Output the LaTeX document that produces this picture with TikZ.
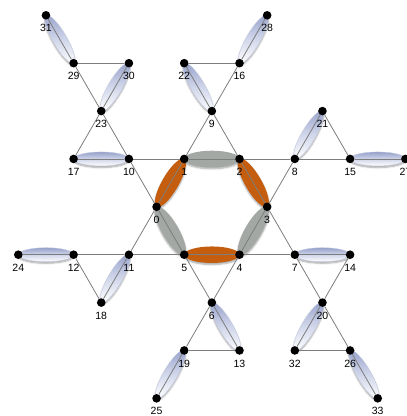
\documentclass[tikz,border=0pt]{standalone}
\usepackage{fontspec}
\setmainfont{Liberation Sans}
\usetikzlibrary{calc,shapes.geometric,shadows.blur}
\definecolor{edgegray}{RGB}{125,125,125}
\definecolor{mblue}{RGB}{150,161,202}
\definecolor{mbluemid}{RGB}{208,214,234}
\definecolor{mblueedge}{RGB}{196,203,226}
\definecolor{morange}{RGB}{196,94,14}
\definecolor{mgray}{RGB}{164,168,164}
\pgfdeclarelayer{ellayer}
\pgfdeclarelayer{edgelayer}
\pgfsetlayers{ellayer,edgelayer,main}
\tikzset{
  vtx/.style={circle, fill=black, inner sep=0pt, minimum size=8.6pt, label={[lbl]below:#1}},
  lbl/.style={font=\fontsize{10.5}{12}\selectfont, inner sep=0pt},
  edge/.style={draw=edgegray, line width=0.8pt},
  ell/.style={ellipse, inner sep=0pt, outer sep=0pt,
    blur shadow={shadow xshift=0pt, shadow yshift=-1.6pt, shadow blur steps=6, shadow opacity=35, shadow blur radius=1.6pt}},
  mblu/.style={ell, minimum height=14pt, top color=mblue, bottom color=white, middle color=mbluemid, draw=mblueedge, line width=0.4pt},
  morg/.style={ell, minimum height=16.5pt, fill=morange},
  mgry/.style={ell, minimum height=16.5pt, fill=mgray},
}
\newcommand\matchell[3]{%
  \path let \p1=($(n#2)-(n#1)$), \n1={mod(atan2(\y1,\x1)+360,180)}, \n2={veclen(\x1,\y1)} in
    node[#3, name=m#1-#2, minimum width=\n2, rotate=\n1] at ($(n#1)!0.5!(n#2)$) {};}
\begin{document}
\begin{tikzpicture}[x=27.65pt, y=-47.88pt, label distance=4.6pt]
\useasboundingbox (-18.3pt,15.3pt) rectangle (388.7pt,-400.7pt);
% vertices
\node[vtx=0]  (n0)  at (5,4) {};
\node[vtx=1]  (n1)  at (6,3) {};
\node[vtx=2]  (n2)  at (8,3) {};
\node[vtx=3]  (n3)  at (9,4) {};
\node[vtx=4]  (n4)  at (8,5) {};
\node[vtx=5]  (n5)  at (6,5) {};
\node[vtx=6]  (n6)  at (7,6) {};
\node[vtx=7]  (n7)  at (10,5) {};
\node[vtx=8]  (n8)  at (10,3) {};
\node[vtx=9]  (n9)  at (7,2) {};
\node[vtx=10] (n10) at (4,3) {};
\node[vtx=11] (n11) at (4,5) {};
\node[vtx=12] (n12) at (2,5) {};
\node[vtx=13] (n13) at (8,7) {};
\node[vtx=14] (n14) at (12,5) {};
\node[vtx=15] (n15) at (12,3) {};
\node[vtx=16] (n16) at (8,1) {};
\node[vtx=17] (n17) at (2,3) {};
\node[vtx=18] (n18) at (3,6) {};
\node[vtx=19] (n19) at (6,7) {};
\node[vtx=20] (n20) at (11,6) {};
\node[vtx=21] (n21) at (11,2) {};
\node[vtx=22] (n22) at (6,1) {};
\node[vtx=23] (n23) at (3,2) {};
\node[vtx=24] (n24) at (0,5) {};
\node[vtx=25] (n25) at (5,8) {};
\node[vtx=26] (n26) at (12,7) {};
\node[vtx=27] (n27) at (14,3) {};
\node[vtx=28] (n28) at (9,0) {};
\node[vtx=29] (n29) at (2,1) {};
\node[vtx=30] (n30) at (4,1) {};
\node[vtx=31] (n31) at (1,0) {};
\node[vtx=32] (n32) at (10,7) {};
\node[vtx=33] (n33) at (13,8) {};
% matching ellipses
\begin{pgfonlayer}{ellayer}
\matchell{31}{29}{mblu}
\matchell{23}{30}{mblu}
\matchell{17}{10}{mblu}
\matchell{22}{9}{mblu}
\matchell{16}{28}{mblu}
\matchell{8}{21}{mblu}
\matchell{15}{27}{mblu}
\matchell{24}{12}{mblu}
\matchell{11}{18}{mblu}
\matchell{19}{25}{mblu}
\matchell{6}{13}{mblu}
\matchell{7}{14}{mblu}
\matchell{20}{32}{mblu}
\matchell{26}{33}{mblu}
\matchell{0}{1}{morg}
\matchell{2}{3}{morg}
\matchell{5}{4}{morg}
\matchell{1}{2}{mgry}
\matchell{3}{4}{mgry}
\matchell{5}{0}{mgry}
\end{pgfonlayer}
% edges
\begin{pgfonlayer}{edgelayer}
\foreach \a/\b in {17/10,10/1,1/2,2/8,8/15,15/27,
  24/12,12/11,11/5,5/4,4/7,7/14,
  0/1,2/3,3/4,5/0,
  0/10,0/11,3/8,3/7,9/1,9/2,6/5,6/4,
  10/23,17/23,23/29,23/30,29/30,29/31,
  9/22,9/16,22/16,16/28,
  8/21,21/15,
  7/20,14/20,20/32,20/26,32/26,26/33,
  6/19,6/13,19/13,19/25,
  11/18,12/18}
  \draw[edge] (n\a) -- (n\b);
\end{pgfonlayer}
\end{tikzpicture}
\end{document}
